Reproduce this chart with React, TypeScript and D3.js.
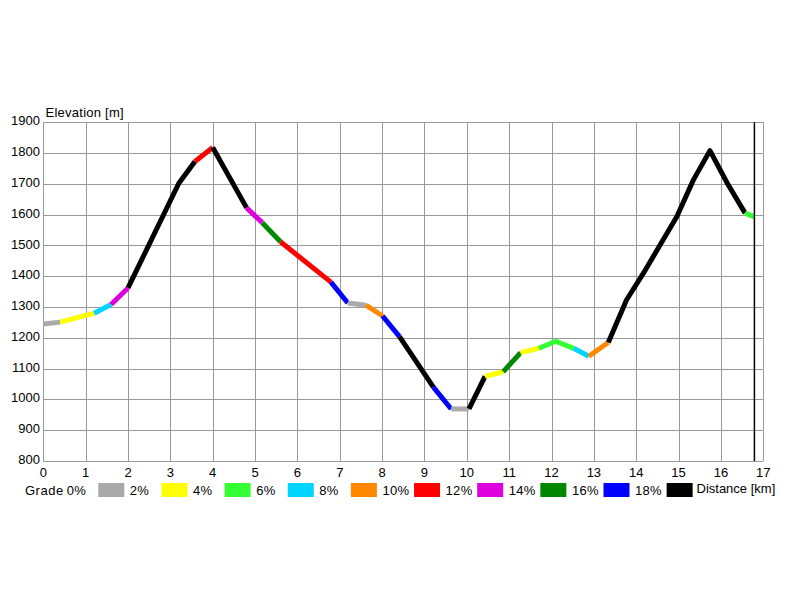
import { useEffect, useRef } from 'react';
import * as d3 from 'd3';

// route profile
const distanceKm = [0, 0.4, 1.2, 1.6, 2.0, 3.2, 3.58, 4.0, 4.8, 5.17, 5.6, 6.79, 7.19, 7.62, 8.01, 8.41, 9.21, 9.63, 10.05, 10.43, 10.86, 11.27, 11.7, 12.1, 12.52, 12.88, 13.34, 13.77, 14.17, 14.96, 15.35, 15.74, 16.15, 16.57, 16.79];
const elevationM = [1245, 1251, 1280, 1308, 1362, 1702, 1773, 1818, 1622, 1574, 1512, 1381, 1313, 1306, 1271, 1204, 1040, 969, 969, 1075, 1090, 1152, 1166, 1189, 1166, 1140, 1185, 1323, 1410, 1594, 1713, 1808, 1702, 1605, 1593];

const gradeSteps = [2, 4, 6, 8, 10, 12, 14, 16, 18];
const gradeColors = ['#aaaaaa', '#ffff00', '#33ff33', '#00d4ff', '#ff8800', '#ff0000', '#dd00dd', '#008800', '#0000ff', '#000000'];
const gradeLabels = ['0%', '2%', '4%', '6%', '8%', '10%', '12%', '14%', '16%', '18%'];

const xTicks = d3.range(0, 18);
const yTicks = d3.range(800, 2000, 100);

const WIDTH = 800;
const HEIGHT = 600;
const FONT = '"Liberation Sans", Arial, sans-serif';
const FS = 13;

export default function App() {
  const svgRef = useRef<SVGSVGElement>(null);

  useEffect(() => {
    if (!svgRef.current) return;
    const svg = d3.select(svgRef.current);
    svg.selectAll('*').remove();

    const x = d3.scaleLinear().domain([0, 17]).range([43.3, 763.3]);
    const y = d3.scaleLinear().domain([800, 1900]).range([461, 122.3]);
    const color = d3.scaleThreshold<number, string>().domain(gradeSteps).range(gradeColors);

    svg.append('rect').attr('width', WIDTH).attr('height', HEIGHT).attr('fill', '#fff');

    // grid
    const grid = svg.append('g').attr('stroke', '#999').attr('stroke-width', 1).attr('shape-rendering', 'crispEdges');
    grid.selectAll('.v').data(xTicks).enter().append('line')
      .attr('x1', d => Math.round(x(d)) + 0.5).attr('x2', d => Math.round(x(d)) + 0.5)
      .attr('y1', y(1900)).attr('y2', y(800));
    grid.selectAll('.h').data(yTicks).enter().append('line')
      .attr('x1', x(0)).attr('x2', x(17))
      .attr('y1', d => Math.round(y(d)) + 0.5).attr('y2', d => Math.round(y(d)) + 0.5);

    // tick labels
    svg.append('g').selectAll('text').data(yTicks).enter().append('text')
      .attr('x', 40).attr('y', d => y(d) - 1.5).attr('dy', '0.35em')
      .attr('text-anchor', 'end').attr('font-family', FONT).attr('font-size', FS)
      .text(d => d);
    svg.append('g').selectAll('text').data(xTicks).enter().append('text')
      .attr('x', d => x(d)).attr('y', 476.5)
      .attr('text-anchor', 'middle').attr('font-family', FONT).attr('font-size', FS)
      .text(d => d);

    svg.append('text').attr('x', 45.5).attr('y', 116.5)
      .attr('font-family', FONT).attr('font-size', FS).attr('letter-spacing', 0.25)
      .text('Elevation [m]');

    // profile segments coloured by grade
    const pts = distanceKm.map((d, i) => ({ d, e: elevationM[i] }));
    const segs = d3.pairs(pts).map(([a, b]) => ({
      a, b,
      c: color(Math.abs(b.e - a.e) / ((b.d - a.d) * 1000) * 100),
    }));
    const runs: { c: string; p: typeof pts }[] = [];
    segs.forEach(s => {
      const last = runs[runs.length - 1];
      if (last && last.c === s.c) last.p.push(s.b);
      else runs.push({ c: s.c, p: [s.a, s.b] });
    });
    const line = d3.line<{ d: number; e: number }>().x(p => x(p.d)).y(p => y(p.e));
    svg.append('g').selectAll('path').data(runs).enter().append('path')
      .attr('d', r => line(r.p))
      .attr('fill', 'none').attr('stroke', r => r.c)
      .attr('stroke-width', 5).attr('stroke-linejoin', 'round');

    // end of route marker
    const end = distanceKm[distanceKm.length - 1];
    svg.append('line')
      .attr('x1', x(end)).attr('x2', x(end)).attr('y1', y(1900)).attr('y2', y(800))
      .attr('stroke', '#000').attr('stroke-width', 1.5);

    // legend
    const lg = svg.append('g').attr('font-family', FONT).attr('font-size', FS);
    lg.append('text').attr('x', 25).attr('y', 494.5).attr('letter-spacing', 0.5).text('Grade');
    const step = 63.15;
    gradeLabels.forEach((lab, i) => {
      const sx = 98.3 + i * step;
      lg.append('text').attr('x', sx - 31.6).attr('y', 494.5).attr('letter-spacing', 0.3).text(lab);
      lg.append('rect').attr('x', sx).attr('y', 483).attr('width', 26).attr('height', 14)
        .attr('fill', gradeColors[i]);
    });
    lg.append('text').attr('x', 96.6 + gradeLabels.length * step - 31.6).attr('y', 492.5)
      .text('Distance [km]');
  }, []);

  return (
    <svg
      ref={svgRef}
      width={WIDTH}
      height={HEIGHT}
      style={{ position: 'absolute', left: 0, top: 0 }}
    />
  );
}
